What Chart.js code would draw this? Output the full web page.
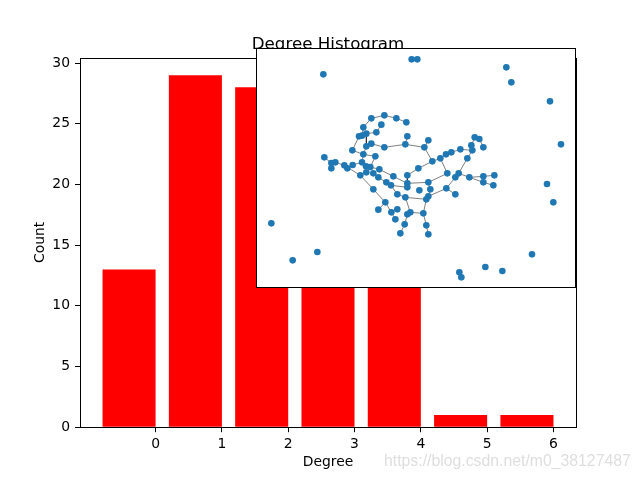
<!DOCTYPE html>
<html>
<head>
<meta charset="utf-8">
<script src="https://cdn.jsdelivr.net/npm/chart.js"></script>
<style>
  body { margin: 0; background: #fff; }
  #wrap { position: relative; width: 640px; height: 480px; }
  #main { position: absolute; left: 0; top: 0; }
  #inset { position: absolute; left: 256px; top: 48px; background: #fff; }
  #mark { position: absolute; left: 384px; top: 452px; font: 15.8px "Liberation Sans", Arial, sans-serif; color: #dedede; white-space: nowrap; }
</style>
</head>
<body>
<div id="wrap">
  <canvas id="main" width="640" height="480"></canvas>
  <canvas id="inset" width="320" height="240"></canvas>
  <div id="mark">https://blog.csdn.net/m0_38127487</div>
</div>
<script>
// histogram data
var degrees = [0, 1, 2, 3, 4, 5, 6];
var counts = [13, 29, 28, 16, 12, 1, 1];
var yTicks = [0, 5, 10, 15, 20, 25, 30];

// graph layout (node positions in layout units) and edges
var nodeX = [346,385,421,451,376,322,361,309,318,331,454,517,331,346,385,448,505,289,322,358,
             205,226,238,226,265,274,290,318,330,343,331,313,352,370,367,412,454,487,529,553,
             570,586,613,646,656,670,682,649,634,608,598,574,640,682,682,715,712,517,454,454,
             391,405,352,424,490,448,523,517,511,571,598,388,367,406,424,418,454,463,502,446,
             511,433,517,
             202,467,484,751,766,882,915,873,892,46,110,184,610,616,688,739,828];
var nodeY = [211,202,211,223,230,238,253,265,263,257,265,277,295,287,298,289,298,307,319,325,
             328,345,343,361,352,361,351,343,355,357,373,382,376,364,388,385,382,361,340,331,
             319,313,304,292,268,273,298,307,331,376,388,376,388,385,403,382,412,403,406,418,
             403,412,424,439,427,448,424,445,454,421,439,463,485,493,484,514,499,493,496,529,
             532,556,559,
             79,34,34,58,103,160,289,408,463,526,637,612,673,688,657,669,619];
var edges = [
  [0,1],[1,2],[2,3],[0,5],[4,6],[5,8],[7,8],[8,9],[6,9],[9,12],[12,13],[13,14],[14,15],[15,16],
  [10,15],[11,16],[16,38],[38,39],[39,40],[40,41],[41,42],[42,47],[43,47],[43,44],[44,45],[45,46],
  [47,48],[48,49],[49,50],[39,51],[51,57],[57,58],[49,52],[52,53],[53,55],[52,54],[54,56],[50,69],
  [69,70],[67,69],[66,67],[67,68],[57,66],[36,37],[37,38],[36,58],[58,59],[59,61],[60,61],[34,60],
  [32,34],[33,35],[35,58],[61,63],[63,65],[65,68],[68,78],[77,78],[78,80],[80,82],[76,79],[79,81],
  [65,77],[76,77],[73,74],[73,75],[71,73],[71,72],[62,71],[31,62],[20,21],[21,22],[21,23],[22,24],
  [24,25],[25,26],[26,27],[27,28],[28,29],[29,33],[28,30],[30,31],[24,31],[18,27],[17,18],[18,19],
  [12,18],[19,29],[7,17],[84,85],[95,96]
];

var mainText = {
  id: 'mainText',
  afterDraw: function(chart) {
    var c = chart.ctx, a = chart.chartArea;
    c.save();
    c.strokeStyle = '#000';
    c.lineWidth = 1;
    c.strokeRect(Math.round(a.left) + 0.5, Math.round(a.top) + 0.5,
                 Math.round(a.right - a.left), Math.round(a.bottom) - Math.round(a.top));
    c.fillStyle = '#000';
    c.textAlign = 'center';
    c.font = '16.7px "DejaVu Sans"';
    c.textBaseline = 'alphabetic';
    c.fillText('Degree Histogram', (a.left + a.right) / 2, 49);
    c.font = '13.9px "DejaVu Sans"';
    c.textBaseline = 'middle';
    c.fillText('Degree', (a.left + a.right) / 2, 462);
    c.translate(40, (a.top + a.bottom) / 2);
    c.rotate(-Math.PI / 2);
    c.fillText('Count', 0, 0);
    c.restore();
  }
};

var insetFrame = {
  id: 'insetFrame',
  afterDraw: function(chart) {
    var c = chart.ctx;
    c.save();
    c.strokeStyle = '#000';
    c.lineWidth = 1;
    c.strokeRect(0.5, 0.5, 319, 239);
    c.restore();
  }
};

function createHistogram() {
  var element = document.getElementById('main').getContext('2d');
  var tickFont = { family: 'DejaVu Sans', size: 13.9 };

  new Chart(element, {
    type: 'bar',
    data: {
      datasets: [{
        data: degrees.map(function(d, i) { return { x: d, y: counts[i] }; }),
        backgroundColor: '#ff0000',
        barPercentage: 0.8,
        categoryPercentage: 1.0
      }]
    },
    options: {
      responsive: false,
      animation: false,
      layout: { padding: { left: 0, top: 57.6, right: 64, bottom: 0 } },
      plugins: { legend: { display: false }, tooltip: { enabled: false } },
      scales: {
        x: {
          type: 'linear', min: -0.74, max: 6.74, offset: false,
          grid: { offset: false, drawOnChartArea: false, tickLength: 5, color: '#000' },
          border: { display: false },
          afterBuildTicks: function(s) { s.ticks = degrees.map(function(d) { return { value: d + 0.4 }; }); },
          afterFit: function(s) { s.height = 480 - 427.2; },
          ticks: {
            autoSkip: false, maxRotation: 0, padding: 4, color: '#000', font: tickFont,
            callback: function(v, i) { return String(degrees[i]); }
          }
        },
        y: {
          min: 0, max: 30.45,
          grid: { drawOnChartArea: false, tickLength: 5, color: '#000' },
          border: { display: false },
          afterBuildTicks: function(s) { s.ticks = yTicks.map(function(v) { return { value: v }; }); },
          afterFit: function(s) { s.width = 80; },
          ticks: { padding: 5, color: '#000', font: tickFont }
        }
      }
    },
    plugins: [mainText]
  });
}

function createGraph() {
  var element = document.getElementById('inset').getContext('2d');
  var nodes = nodeX.map(function(x, i) { return { x: x, y: nodeY[i] }; });
  var segs = [];
  edges.forEach(function(e) {
    segs.push({ x: nodeX[e[0]], y: nodeY[e[0]] });
    segs.push({ x: nodeX[e[1]], y: nodeY[e[1]] });
    segs.push({ x: NaN, y: NaN });
  });

  new Chart(element, {
    type: 'scatter',
    data: {
      datasets: [{
        data: nodes,
        backgroundColor: '#1f77b4',
        borderWidth: 0,
        pointRadius: 3.3,
        clip: false
      }, {
        data: segs,
        showLine: true,
        spanGaps: false,
        borderColor: 'rgba(0,0,0,0.5)',
        borderWidth: 1,
        pointRadius: 0,
        clip: false
      }]
    },
    options: {
      responsive: false,
      animation: false,
      layout: { padding: 0, autoPadding: false },
      plugins: { legend: { display: false }, tooltip: { enabled: false } },
      scales: {
        x: { type: 'linear', display: false, min: 0, max: 960 },
        y: { type: 'linear', display: false, min: 0, max: 720, reverse: true }
      }
    },
    plugins: [insetFrame]
  });
}

createHistogram();
createGraph();
</script>
</body>
</html>
